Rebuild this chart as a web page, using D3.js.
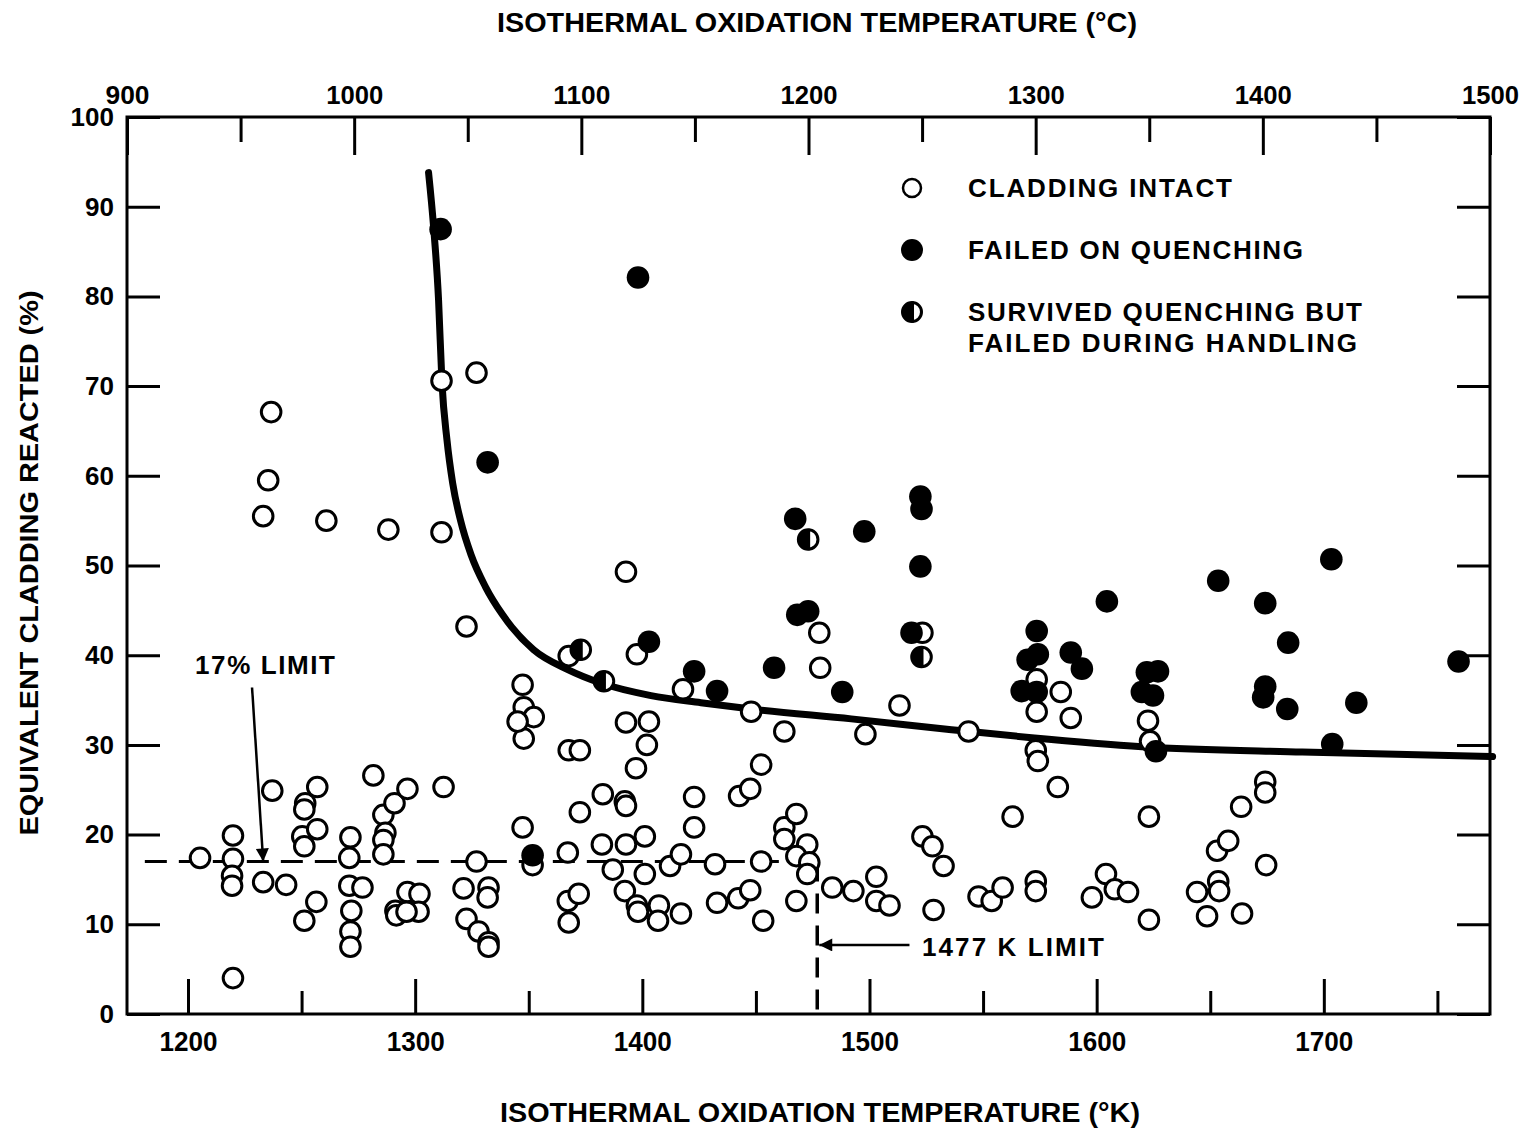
<!DOCTYPE html>
<html><head><meta charset="utf-8">
<script src="https://cdn.jsdelivr.net/npm/d3@7"></script>
<style>
body{margin:0;background:#fff}
text{font-family:"Liberation Sans",Arial,Helvetica,sans-serif;font-weight:bold;fill:#000}
</style>
</head><body>
<svg id="chart" width="1522" height="1129"></svg>
<script>
// ---------- data ----------
const kelvinMajorTicks = [1200, 1300, 1400, 1500, 1600, 1700];
const kelvinMinorTicks = [1250, 1350, 1450, 1550, 1650, 1750];
const celsiusMajorTicks = [900, 1000, 1100, 1200, 1300, 1400, 1500];
const celsiusMinorTicks = [950, 1050, 1150, 1250, 1350, 1450];
const percentTicks = [0, 10, 20, 30, 40, 50, 60, 70, 80, 90, 100];

// [temperature K, equivalent cladding reacted %]
const claddingIntact = [
[1205.3,17.4],[1219.8,19.9],[1219.8,17.3],[1219.4,15.4],[1219.4,14.3],[1219.8,4.0],
[1233.1,14.7],[1237.1,24.9],[1243.2,14.4],[1251.6,23.5],[1251.2,22.8],[1256.9,25.3],
[1250.3,19.8],[1251.2,18.7],[1256.9,20.6],[1256.5,12.5],[1251.2,10.4],
[1271.5,19.7],[1271.0,17.4],[1271.0,14.3],[1276.8,14.1],[1271.9,11.5],[1271.5,9.2],[1271.5,7.5],
[1281.6,26.6],[1286.0,22.2],[1290.9,23.5],[1296.6,25.1],[1286.9,20.2],[1286.0,19.4],[1286.0,17.8],
[1291.3,11.5],[1291.7,11.0],[1296.6,13.6],[1301.9,13.4],[1301.5,11.4],[1296.2,11.4],
[1312.5,25.3],[1327.0,17.0],[1321.3,14.0],[1322.6,10.6],[1327.9,9.2],[1332.3,8.0],[1332.3,7.5],[1332.3,14.1],[1331.9,13.0],
[1347.3,20.8],[1351.7,16.6],[1347.3,36.7],[1347.8,34.2],[1352.2,33.1],[1347.8,30.7],[1345.1,32.6],
[1236.6,67.1],[1235.3,59.5],[1233.1,55.5],[1260.9,55.0],[1288.2,54.0],[1311.6,53.7],[1311.6,70.6],[1327.0,71.5],[1322.6,43.2],
[1367.2,18.0],[1367.2,12.6],[1372.0,13.4],[1367.6,10.2],[1372.5,22.5],[1367.6,29.4],[1372.5,29.4],[1367.6,39.9],
[1392.8,49.3],[1397.6,40.1],[1417.9,36.2],[1447.9,33.7],[1462.5,31.5],[1498.2,31.2],
[1392.8,32.5],[1402.9,32.6],[1402.0,30.0],[1397.2,27.4],[1382.6,24.5],[1392.3,23.7],[1392.8,23.2],
[1422.8,24.2],[1422.8,20.8],[1442.6,24.3],[1447.5,25.1],[1452.3,27.8],[1462.5,20.8],[1467.8,22.3],[1462.5,19.5],[1472.6,18.9],[1467.8,17.6],[1473.5,16.9],[1472.6,15.6],
[1401.1,19.8],[1392.8,18.9],[1382.2,18.9],[1387.0,16.1],[1401.1,15.6],[1412.2,16.5],[1417.0,17.8],[1432.0,16.7],[1452.3,17.0],
[1392.3,13.7],[1397.6,12.1],[1398.1,11.4],[1407.3,12.1],[1406.9,10.4],[1417.0,11.2],[1432.9,12.4],[1442.2,12.9],[1447.5,13.8],[1467.8,12.6],[1453.2,10.4],
[1483.6,14.1],[1492.9,13.7],[1503.0,15.3],[1503.0,12.6],[1508.8,12.1],[1528.2,11.6],[1523.3,19.8],[1527.7,18.7],[1532.6,16.5],
[1477.9,42.5],[1478.3,38.6],[1513.2,34.4],[1523.3,42.5],
[1543.6,31.5],[1573.6,37.3],[1573.6,33.7],[1584.2,35.9],[1588.6,33.0],[1622.6,32.7],[1623.5,30.4],[1573.2,29.4],[1574.1,28.2],
[1674.2,25.9],[1674.2,24.7],[1582.9,25.3],[1563.0,22.0],[1623.0,22.0],
[1548.0,13.1],[1553.8,12.6],[1558.6,14.1],[1573.2,14.8],[1573.2,13.7],[1597.9,13.0],[1604.1,15.6],[1608.0,13.9],[1613.8,13.6],[1623.0,10.5],
[1644.2,13.6],[1653.5,14.8],[1653.9,13.7],[1648.6,10.9],[1664.0,11.2],[1653.0,18.2],[1657.9,19.3],[1663.6,23.1],[1674.6,16.6]
];

const failedOnQuenching = [
[1311.2,87.5],[1398.1,82.1],[1331.9,61.5],[1351.7,17.7],[1402.9,41.5],[1422.8,38.2],[1432.9,36.0],[1458.0,38.6],
[1468.2,44.5],[1473.0,44.9],[1488.0,35.9],[1467.3,55.2],[1497.7,53.8],[1522.4,57.7],[1522.9,56.3],[1522.4,49.9],[1518.5,42.5],
[1604.5,46.0],[1653.5,48.3],[1674.2,45.8],[1703.3,50.7],[1684.3,41.4],[1573.6,42.7],[1574.1,40.1],[1569.6,39.5],
[1588.6,40.3],[1593.5,38.5],[1622.1,38.1],[1627.0,38.2],[1567.0,36.0],[1573.6,35.9],[1619.9,35.9],[1624.8,35.5],
[1674.2,36.5],[1673.3,35.3],[1683.9,34.0],[1714.3,34.7],[1759.3,39.3],[1703.7,30.1],[1626.1,29.3]
];

const failedDuringHandling = [
[1473.0,52.9],[1383.1,37.1],[1372.9,40.6],[1522.9,39.8]
];

const boundaryCurve = [
[1305.9,93.8],[1308.1,87.8],[1310.3,79.6],[1311.8,70.4],[1314.0,64.0],[1316.5,59.2],[1320.0,55.0],
[1324.6,51.2],[1331.0,47.6],[1338.5,44.5],[1352.2,40.6],[1367.2,38.4],[1381.7,36.9],[1403.8,35.5],
[1425.8,34.7],[1447.9,34.0],[1492.0,32.9],[1536.1,31.7],[1571.4,30.8],[1619.9,29.8],[1690.5,29.2],[1774.3,28.7]
];

const limitPercent = 17;
const limitKelvin = 1477;

const legendItems = [
  {type:"open", lines:["CLADDING INTACT"]},
  {type:"filled", lines:["FAILED ON QUENCHING"]},
  {type:"half", lines:["SURVIVED QUENCHING BUT","FAILED DURING HANDLING"]}
];

// ---------- layout ----------
const L = 127, R = 1490, T = 117, B = 1014;
const svg = d3.select("#chart");
svg.append("rect").attr("width",1522).attr("height",1129).attr("fill","#fff");

const x = d3.scaleLinear().domain([1173.15, 1773.15]).range([L, R]);
const xc = d3.scaleLinear().domain([900, 1500]).range([L, R]);
const y = d3.scaleLinear().domain([0, 100]).range([B, T]);

function styleAxis(g){
  g.select(".domain").remove();
  g.selectAll(".tick line").attr("stroke","#000").attr("stroke-width",3);
}
svg.append("g").attr("transform",`translate(0,${B})`)
  .call(d3.axisBottom(x).tickValues(kelvinMajorTicks).tickSizeInner(-35).tickSizeOuter(0).tickPadding(17).tickFormat(d3.format("d")))
  .call(styleAxis)
  .call(g=>g.selectAll("text").attr("font-size",28).attr("textLength",58).attr("lengthAdjust","spacingAndGlyphs"));
svg.append("g").attr("transform",`translate(0,${B})`)
  .call(d3.axisBottom(x).tickValues(kelvinMinorTicks).tickSizeInner(-23).tickSizeOuter(0).tickFormat(""))
  .call(styleAxis);
svg.append("g").attr("transform",`translate(0,${T})`)
  .call(d3.axisTop(xc).tickValues(celsiusMajorTicks).tickSizeInner(-38).tickSizeOuter(0).tickPadding(13).tickFormat(d3.format("d")))
  .call(styleAxis)
  .call(g=>g.selectAll("text").attr("font-size",26).attr("textLength",d=>d>=1000?57:44).attr("lengthAdjust","spacingAndGlyphs"));
svg.append("g").attr("transform",`translate(0,${T})`)
  .call(d3.axisTop(xc).tickValues(celsiusMinorTicks).tickSizeInner(-25).tickSizeOuter(0).tickFormat(""))
  .call(styleAxis);
svg.append("g").attr("transform",`translate(${L},0)`)
  .call(d3.axisLeft(y).tickValues(percentTicks).tickSizeInner(-33).tickSizeOuter(0).tickPadding(13).tickFormat(d3.format("d")))
  .call(styleAxis)
  .call(g=>g.selectAll("text").attr("font-size",26));
svg.append("g").attr("transform",`translate(${R},0)`)
  .call(d3.axisRight(y).tickValues(percentTicks).tickSizeInner(-33).tickSizeOuter(0).tickFormat(""))
  .call(styleAxis);

svg.append("rect").attr("x",L).attr("y",T).attr("width",R-L).attr("height",B-T)
  .attr("fill","none").attr("stroke","#000").attr("stroke-width",3);

svg.append("text").attr("x",817).attr("y",32).attr("text-anchor","middle").attr("font-size",27)
  .attr("textLength",640).attr("lengthAdjust","spacingAndGlyphs").text("ISOTHERMAL OXIDATION TEMPERATURE (°C)");
svg.append("text").attr("x",820).attr("y",1122).attr("text-anchor","middle").attr("font-size",27)
  .attr("textLength",640).attr("lengthAdjust","spacingAndGlyphs").text("ISOTHERMAL OXIDATION TEMPERATURE (°K)");
svg.append("text").attr("transform","translate(38,563) rotate(-90)").attr("text-anchor","middle").attr("font-size",26)
  .attr("textLength",545).attr("lengthAdjust","spacingAndGlyphs").text("EQUIVALENT CLADDING REACTED (%)");

const defs = svg.append("defs");
defs.append("marker").attr("id","arrow").attr("viewBox","0 0 10 10").attr("refX",10).attr("refY",5)
  .attr("markerWidth",26).attr("markerHeight",13).attr("markerUnits","userSpaceOnUse")
  .attr("orient","auto").append("path").attr("d","M0,0 L10,5 L0,10 Z").attr("fill","#000");

svg.append("line").attr("x1",x(1181)).attr("x2",x(limitKelvin)).attr("y1",y(limitPercent)).attr("y2",y(limitPercent))
  .attr("stroke","#000").attr("stroke-width",3).attr("stroke-dasharray","22,12");
svg.append("line").attr("x1",x(limitKelvin)).attr("x2",x(limitKelvin)).attr("y1",y(limitPercent)).attr("y2",B)
  .attr("stroke","#000").attr("stroke-width",3.5).attr("stroke-dasharray","20,12");

svg.append("line").attr("x1",x(1228.2)).attr("y1",y(36.4)).attr("x2",x(1233.1)).attr("y2",y(limitPercent))
  .attr("stroke","#000").attr("stroke-width",2.5).attr("marker-end","url(#arrow)");
svg.append("line").attr("x1",x(1517.6)).attr("y1",y(7.7)).attr("x2",x(limitKelvin)+2).attr("y2",y(7.7))
  .attr("stroke","#000").attr("stroke-width",2.5).attr("marker-end","url(#arrow)");
svg.append("text").attr("x",195).attr("y",674).attr("font-size",26).attr("textLength",140).attr("lengthAdjust","spacing").text("17% LIMIT");
svg.append("text").attr("x",922).attr("y",956).attr("font-size",26).attr("textLength",182).attr("lengthAdjust","spacing").text("1477 K LIMIT");

svg.append("path").datum(boundaryCurve)
  .attr("d", d3.line().x(d=>x(d[0])).y(d=>y(d[1])).curve(d3.curveMonotoneX))
  .attr("fill","none").attr("stroke","#000").attr("stroke-width",7).attr("stroke-linecap","round");

const r = 9.8;
function drawHalf(g, cx, cy, rr){
  g.append("circle").attr("cx",cx).attr("cy",cy).attr("r",rr).attr("fill","#fff").attr("stroke","#000").attr("stroke-width",3);
  g.append("path").attr("d",`M${cx+1},${cy-rr} A${rr},${rr} 0 0 0 ${cx+1},${cy+rr} Z`).attr("fill","#000").attr("stroke","#000").attr("stroke-width",2);
}
svg.append("g").selectAll("circle").data(claddingIntact).join("circle")
  .attr("cx",d=>x(d[0])).attr("cy",d=>y(d[1])).attr("r",r)
  .attr("fill","#fff").attr("stroke","#000").attr("stroke-width",3);
svg.append("g").selectAll("circle").data(failedOnQuenching).join("circle")
  .attr("cx",d=>x(d[0])).attr("cy",d=>y(d[1])).attr("r",r+1.5).attr("fill","#000");
const gHalf = svg.append("g");
failedDuringHandling.forEach(d=>drawHalf(gHalf, x(d[0]), y(d[1]), r));

const legendY = [188, 250, 312];
const legendTextLen = [[264],[335],[394,389]];
legendItems.forEach((item,i)=>{
  const cy = legendY[i], cx = 912;
  if(item.type==="open") svg.append("circle").attr("cx",cx).attr("cy",cy).attr("r",9).attr("fill","#fff").attr("stroke","#000").attr("stroke-width",2.5);
  else if(item.type==="filled") svg.append("circle").attr("cx",cx).attr("cy",cy).attr("r",11).attr("fill","#000");
  else drawHalf(svg, cx, cy, 9.5);
  item.lines.forEach((ln,j)=>{
    svg.append("text").attr("x",968).attr("y",cy+9+j*31).attr("font-size",26)
      .attr("textLength",legendTextLen[i][j]).attr("lengthAdjust","spacing").text(ln);
  });
});
</script>
</body></html>
